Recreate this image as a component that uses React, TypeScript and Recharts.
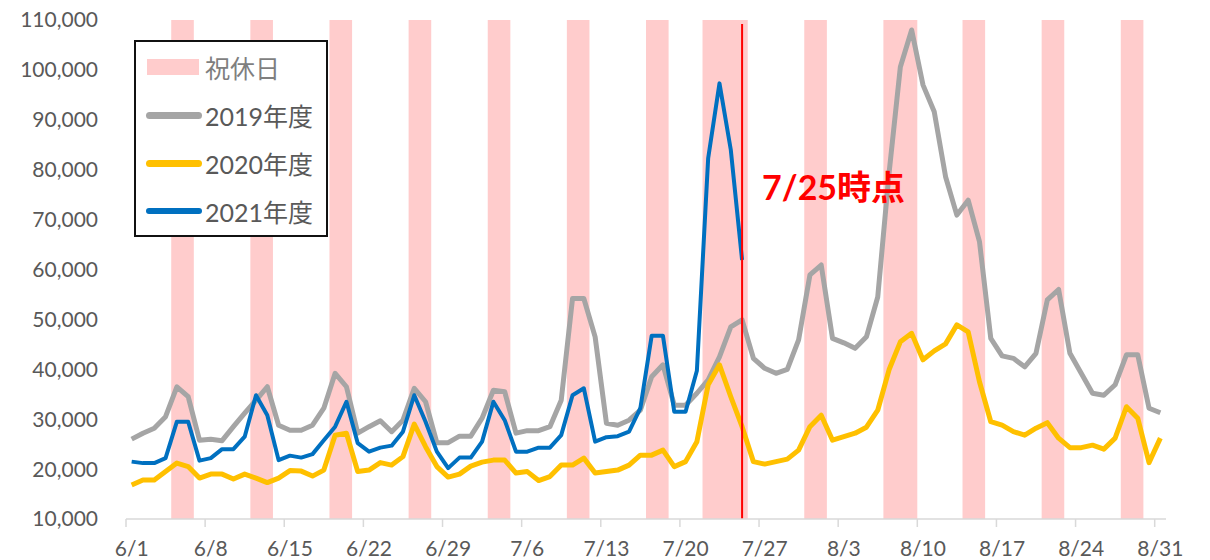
import React from "react";
import { LineChart, Line, XAxis, YAxis, ReferenceArea, ReferenceLine } from "recharts";

// category labels 6/1 .. 8/31
const monthDays: [number, number][] = [[6, 30], [7, 31], [8, 31]];
const dates: string[] = [];
for (const [m, n] of monthDays) for (let d = 1; d <= n; d++) dates.push(`${m}/${d}`);

const xTickLabels = ["6/1", "6/8", "6/15", "6/22", "6/29", "7/6", "7/13", "7/20", "7/27", "8/3", "8/10", "8/17", "8/24", "8/31"];
const yTicks = [10000, 20000, 30000, 40000, 50000, 60000, 70000, 80000, 90000, 100000, 110000];

// 2021 weekends / holidays
const holidays: [string, string][] = [
  ["6/5", "6/6"], ["6/12", "6/13"], ["6/19", "6/20"], ["6/26", "6/27"],
  ["7/3", "7/4"], ["7/10", "7/11"], ["7/17", "7/18"], ["7/22", "7/25"],
  ["7/31", "8/1"], ["8/7", "8/9"], ["8/14", "8/15"], ["8/21", "8/22"], ["8/28", "8/29"],
];
const markerDate = "7/25";

const y2019 = [
  26000, 27200, 28200, 30500, 36500, 34500, 25800, 26000, 25700, 28500,
  31200, 33800, 36500, 28800, 27800, 27800, 28800, 32200, 39200, 36500,
  27200, 28500, 29700, 27500, 29800, 36200, 33500, 25300, 25300, 26600,
  26600, 30200, 35800, 35500, 27200, 27700, 27700, 28500, 33800, 54200,
  54200, 46500, 29200, 28800, 29800, 31800, 38500, 40900, 32800, 32800,
  35200, 37900, 42500, 48500, 49900, 42200, 40200, 39200, 40000, 45900,
  58900, 60900, 46200, 45300, 44200, 46500, 54500, 79300, 100600, 108000,
  97000, 91600, 78600, 70900, 73900, 65600, 46200, 42700, 42200, 40500,
  43200, 53900, 56000, 43200, 39200, 35200, 34800, 36900, 42900, 42900,
  32200, 31300,
];

const y2020 = [
  16800, 17800, 17800, 19500, 21200, 20500, 18200, 19000, 19000, 18000,
  19000, 18200, 17300, 18200, 19700, 19600, 18600, 19800, 26800, 27200,
  19500, 19800, 21300, 20800, 22500, 29000, 24500, 20500, 18400, 19000,
  20600, 21400, 21800, 21800, 19200, 19500, 17700, 18500, 20800, 20800,
  22200, 19200, 19500, 19800, 20800, 22800, 22800, 23800, 20500, 21500,
  25500, 36900, 40900, 34500, 28500, 21500, 21000, 21500, 22000, 23800,
  28500, 30800, 25800, 26500, 27200, 28400, 31800, 39900, 45500, 47200,
  41900, 43700, 45100, 48900, 47500, 37500, 29500, 28800, 27500, 26800,
  28200, 29300, 26200, 24300, 24300, 24800, 24000, 26200, 32500, 30200,
  21300, 26200,
];

// 2021 only up to 7/25
const y2021 = [
  21500, 21200, 21200, 22200, 29500, 29500, 21700, 22200, 24000, 24000,
  26500, 34800, 30800, 21800, 22700, 22300, 23000, 25800, 28500, 33500,
  25200, 23500, 24300, 24700, 27500, 34800, 29500, 23500, 20200, 22300,
  22300, 25500, 33500, 29800, 23500, 23500, 24300, 24300, 26800, 34800,
  36200, 25500, 26400, 26600, 27500, 32200, 46700, 46700, 31500, 31500,
  39700, 82300, 97300, 84000, 61900,
];

const data = dates.map((date, i) => ({
  idx: i,
  date,
  y2019: y2019[i],
  y2020: y2020[i],
  y2021: i < y2021.length ? y2021[i] : null,
}));

const xTicks = xTickLabels.map((d) => dates.indexOf(d));

const FONT = 'Lato, "Noto Sans CJK JP", sans-serif';
const TEXT = "#595959";
const PLOT_W = 1040;
const HALF_BAND = PLOT_W / dates.length / 2;

function DateTick({ x, y, payload }: any) {
  return (
    <g>
      <line x1={x - HALF_BAND} x2={x - HALF_BAND} y1={y} y2={y + 8} stroke="#D9D9D9" strokeWidth={1.5} />
      <text x={x} y={y + 37} textAnchor="middle" fill={TEXT} fontSize={21}>
        {dates[payload.value]}
      </text>
    </g>
  );
}

function NoteLabel({ viewBox }: any) {
  return (
    <text x={viewBox.x + 20} y={200} fill="#FF0000" fontSize={34} fontWeight="bold">
      7/25時点
    </text>
  );
}

const legendItems = [
  { label: "祝休日", color: "#FFCCCC", box: true, w: 0 },
  { label: "2019年度", color: "#A5A5A5", box: false, w: 7 },
  { label: "2020年度", color: "#FFC000", box: false, w: 7 },
  { label: "2021年度", color: "#0070C0", box: false, w: 6 },
];

export default function App() {
  const mx = dates.indexOf(markerDate);
  return (
    <div style={{ position: "absolute", left: 0, top: 0, width: 1210, height: 560, fontFamily: FONT, background: "#fff" }}>
      <LineChart width={1210} height={560} data={data} margin={{ top: 20, right: 44, bottom: 0, left: 0 }}>
        {holidays.map(([a, b]) => (
          <ReferenceArea
            key={a}
            x1={dates.indexOf(a) - 0.5}
            x2={dates.indexOf(b) + 0.5}
            fill="#FFCCCC"
            fillOpacity={1}
            stroke="none"
          />
        ))}
        <XAxis
          dataKey="idx"
          type="number"
          domain={[-0.5, dates.length - 0.5]}
          ticks={xTicks}
          interval={0}
          height={41}
          tickSize={0}
          tickMargin={0}
          tickLine={false}
          axisLine={{ stroke: "#D9D9D9", strokeWidth: 1.5 }}
          tick={<DateTick />}
        />
        <YAxis
          type="number"
          domain={[10000, 110000]}
          ticks={yTicks}
          width={126}
          axisLine={false}
          tickLine={false}
          tickSize={0}
          tickMargin={28}
          tick={{ fill: TEXT, fontSize: 21 }}
          tickFormatter={(v: number) => v.toLocaleString("en-US")}
        />
        <Line dataKey="y2019" stroke="#A5A5A5" strokeWidth={5} dot={false} isAnimationActive={false} strokeLinejoin="round" />
        <Line dataKey="y2020" stroke="#FFC000" strokeWidth={5} dot={false} isAnimationActive={false} strokeLinejoin="round" />
        <Line dataKey="y2021" stroke="#0070C0" strokeWidth={4} dot={false} isAnimationActive={false} strokeLinejoin="round" />
        <ReferenceLine
          segment={[{ x: mx, y: 109200 }, { x: mx, y: 10000 }]}
          stroke="#FF0000"
          strokeWidth={2}
          label={<NoteLabel />}
        />
      </LineChart>
      <div
        style={{
          position: "absolute", left: 134, top: 40, width: 194, height: 197, boxSizing: "border-box",
          border: "2px solid #111", background: "#fff",
        }}
      >
        {legendItems.map((it, i) => (
          <div key={it.label} style={{ position: "absolute", left: 0, top: 10 + i * 48, height: 30, display: "flex", alignItems: "center" }}>
            {it.box ? (
              <div style={{ marginLeft: 11, width: 52, height: 16, background: it.color }} />
            ) : (
              <div style={{ marginLeft: 10, width: 56, height: it.w, borderRadius: 4, background: it.color }} />
            )}
            <span style={{ marginLeft: it.box ? 6 : 3, fontSize: 25, color: i === 0 ? "#7F7F7F" : TEXT, whiteSpace: "nowrap" }}>
              {it.label}
            </span>
          </div>
        ))}
      </div>
    </div>
  );
}
